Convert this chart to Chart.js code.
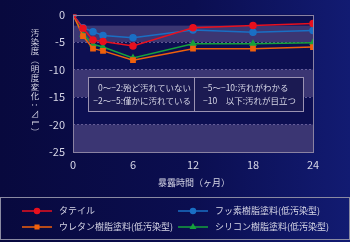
<!DOCTYPE html>
<html><head><meta charset="utf-8">
<script src="https://cdn.jsdelivr.net/npm/chart.js@4"></script>
<style>
html,body{margin:0;padding:0;}
body{width:350px;height:242px;overflow:hidden;background:linear-gradient(90deg,#08093e 0%,#0b0e50 55%,#121b72 100%);}
#wrap{position:relative;width:350px;height:242px;}
</style></head><body>
<div id="wrap"><canvas id="chart" width="350" height="242"></canvas></div>
<script>
const FONT = '"Noto Sans CJK JP", "Noto Sans", sans-serif';
const TEXT = '#d6d6e6';

// 暴露時間（ヶ月）
const months = [0, 1, 2, 3, 6, 12, 18, 24];
const tile = [0, -2.5, -4.6, -4.9, -5.7, -2.4, -2.0, -1.6];
const fluoro = [0, -2.4, -3.1, -3.8, -4.2, -2.8, -3.2, -2.9];
const urethane = [0, -3.9, -6.2, -6.6, -8.3, -6.2, -6.2, -5.9];
const silicone = [0, -3.6, -5.4, -5.9, -7.9, -5.3, -5.3, -5.1];

const seriesNames = ['タテイル', 'フッ素樹脂塗料(低汚染型)', 'ウレタン樹脂塗料(低汚染型)', 'シリコン樹脂塗料(低汚染型)'];
const seriesColors = ['#e8101e', '#1a6fc4', '#f0600c', '#16a23c'];
const seriesPoints = ['circle', 'circle', 'rect', 'triangle'];
const seriesData = [tile, fluoro, urethane, silicone];

const yTicks = [0, -5, -10, -15, -20, -25];
const xTicks = [0, 6, 12, 18, 24];
const bandEdges = [0, -2, -5, -10, -15, -20, -25];

const yTitle = '汚染度（明度変化:⊿L）';
const xTitle = '暴露時間（ヶ月）';
const noteLeft = ['0～−2:殆ど汚れていない', '−2～−5:僅かに汚れている'];
const noteRight = ['−5～−10:汚れがわかる', '−10　以下:汚れが目立つ'];

const datasets = seriesData.map((d, i) => ({
    label: seriesNames[i],
    data: d.map((v, j) => ({ x: months[j], y: v })),
    borderColor: seriesColors[i],
    backgroundColor: seriesColors[i],
    borderWidth: 1.5,
    pointStyle: seriesPoints[i],
    pointRadius: 3,
    pointHoverRadius: 3,
    tension: 0
}));

const decor = {
    id: 'decor',
    beforeDraw(chart) {
        const { ctx, chartArea: a, scales: { y } } = chart;
        ctx.save();
        for (let i = 0; i < bandEdges.length - 1; i++) {
            const y1 = y.getPixelForValue(bandEdges[i]);
            const y2 = y.getPixelForValue(bandEdges[i + 1]);
            ctx.fillStyle = i % 2 === 0 ? '#0d0f52' : '#3b3673';
            ctx.fillRect(a.left, y1, a.right - a.left, y2 - y1);
        }
        ctx.restore();
    },
    afterDraw(chart) {
        const { ctx, chartArea: a } = chart;
        ctx.save();
        // 枠
        ctx.strokeStyle = '#8a82a2';
        ctx.lineWidth = 1;
        ctx.strokeRect(Math.round(a.left) + 0.5, Math.round(a.top) + 0.5, Math.round(a.right - a.left), Math.round(a.bottom - a.top));

        // 説明ボックス
        ctx.fillStyle = '#1b1a52';
        ctx.fillRect(88, 77, 215, 34);
        ctx.strokeStyle = '#9a92b2';
        ctx.strokeRect(88.5, 77.5, 215, 34);
        ctx.beginPath();
        ctx.moveTo(194.5, 77.5);
        ctx.lineTo(194.5, 111.5);
        ctx.stroke();
        ctx.fillStyle = TEXT;
        ctx.font = '8.5px ' + FONT;
        ctx.textBaseline = 'middle';
        ctx.textAlign = 'right';
        ctx.fillText(noteLeft[0], 191, 88);
        ctx.fillText(noteLeft[1], 191, 101);
        ctx.textAlign = 'left';
        ctx.fillText(noteRight[0], 203, 88);
        ctx.fillText(noteRight[1], 203, 101);

        // 縦書きのY軸タイトル
        ctx.font = '8.5px ' + FONT;
        ctx.textAlign = 'center';
        Array.from(yTitle).forEach((c, i) => {
            const cy = 33 + i * 9;
            if ('（）:L'.includes(c)) {
                ctx.save();
                ctx.translate(35, cy);
                ctx.rotate(Math.PI / 2);
                ctx.fillText(c, 0, 0);
                ctx.restore();
            } else {
                ctx.fillText(c, 35, cy);
            }
        });

        // X軸タイトル
        ctx.font = '9px ' + FONT;
        ctx.fillText(xTitle, 194, 183);

        // 凡例
        ctx.strokeStyle = '#8a8aa2';
        ctx.lineWidth = 1;
        ctx.strokeRect(0.5, 197.5, 349, 42);
        const pos = [[22, 211], [178, 211], [22, 227], [178, 227]];
        datasets.forEach((ds, i) => {
            const [lx, ly] = pos[i];
            ctx.strokeStyle = ds.borderColor;
            ctx.lineWidth = 1.5;
            ctx.beginPath();
            ctx.moveTo(lx, ly);
            ctx.lineTo(lx + 30, ly);
            ctx.stroke();
            ctx.fillStyle = ds.borderColor;
            Chart.helpers.drawPoint(ctx, { pointStyle: ds.pointStyle, radius: 2.5, borderWidth: 1 }, lx + 15, ly);
            ctx.fillStyle = TEXT;
            ctx.textAlign = 'left';
            ctx.font = '9px ' + FONT;
            ctx.fillText(ds.label, lx + 37, ly);
        });
        ctx.restore();
    }
};

new Chart(document.getElementById('chart'), {
    type: 'line',
    data: { datasets },
    options: {
        responsive: false,
        animation: false,
        layout: { padding: { top: 8, right: 37, left: 0, bottom: 0 } },
        plugins: { legend: { display: false }, tooltip: { enabled: false } },
        scales: {
            x: {
                type: 'linear', min: 0, max: 24,
                afterBuildTicks: s => { s.ticks = xTicks.map(v => ({ value: v })); },
                ticks: { color: TEXT, font: { size: 11, family: FONT }, padding: 6, maxRotation: 0 },
                grid: { display: false, drawTicks: false },
                border: { display: false },
                afterFit: s => { s.height = 90; }
            },
            y: {
                min: -25, max: 0,
                afterBuildTicks: s => { s.ticks = yTicks.map(v => ({ value: v })); },
                ticks: { color: TEXT, font: { size: 11, family: FONT }, padding: 8 },
                grid: {
                    drawTicks: false,
                    color: c => (c.tick && (c.tick.value === 0 || c.tick.value === -25)) ? 'rgba(0,0,0,0)' : 'rgba(130,120,175,0.7)'
                },
                border: { display: false, dash: [2, 2] },
                afterFit: s => { s.width = 73; }
            }
        }
    },
    plugins: [decor]
});
</script>
</body></html>
